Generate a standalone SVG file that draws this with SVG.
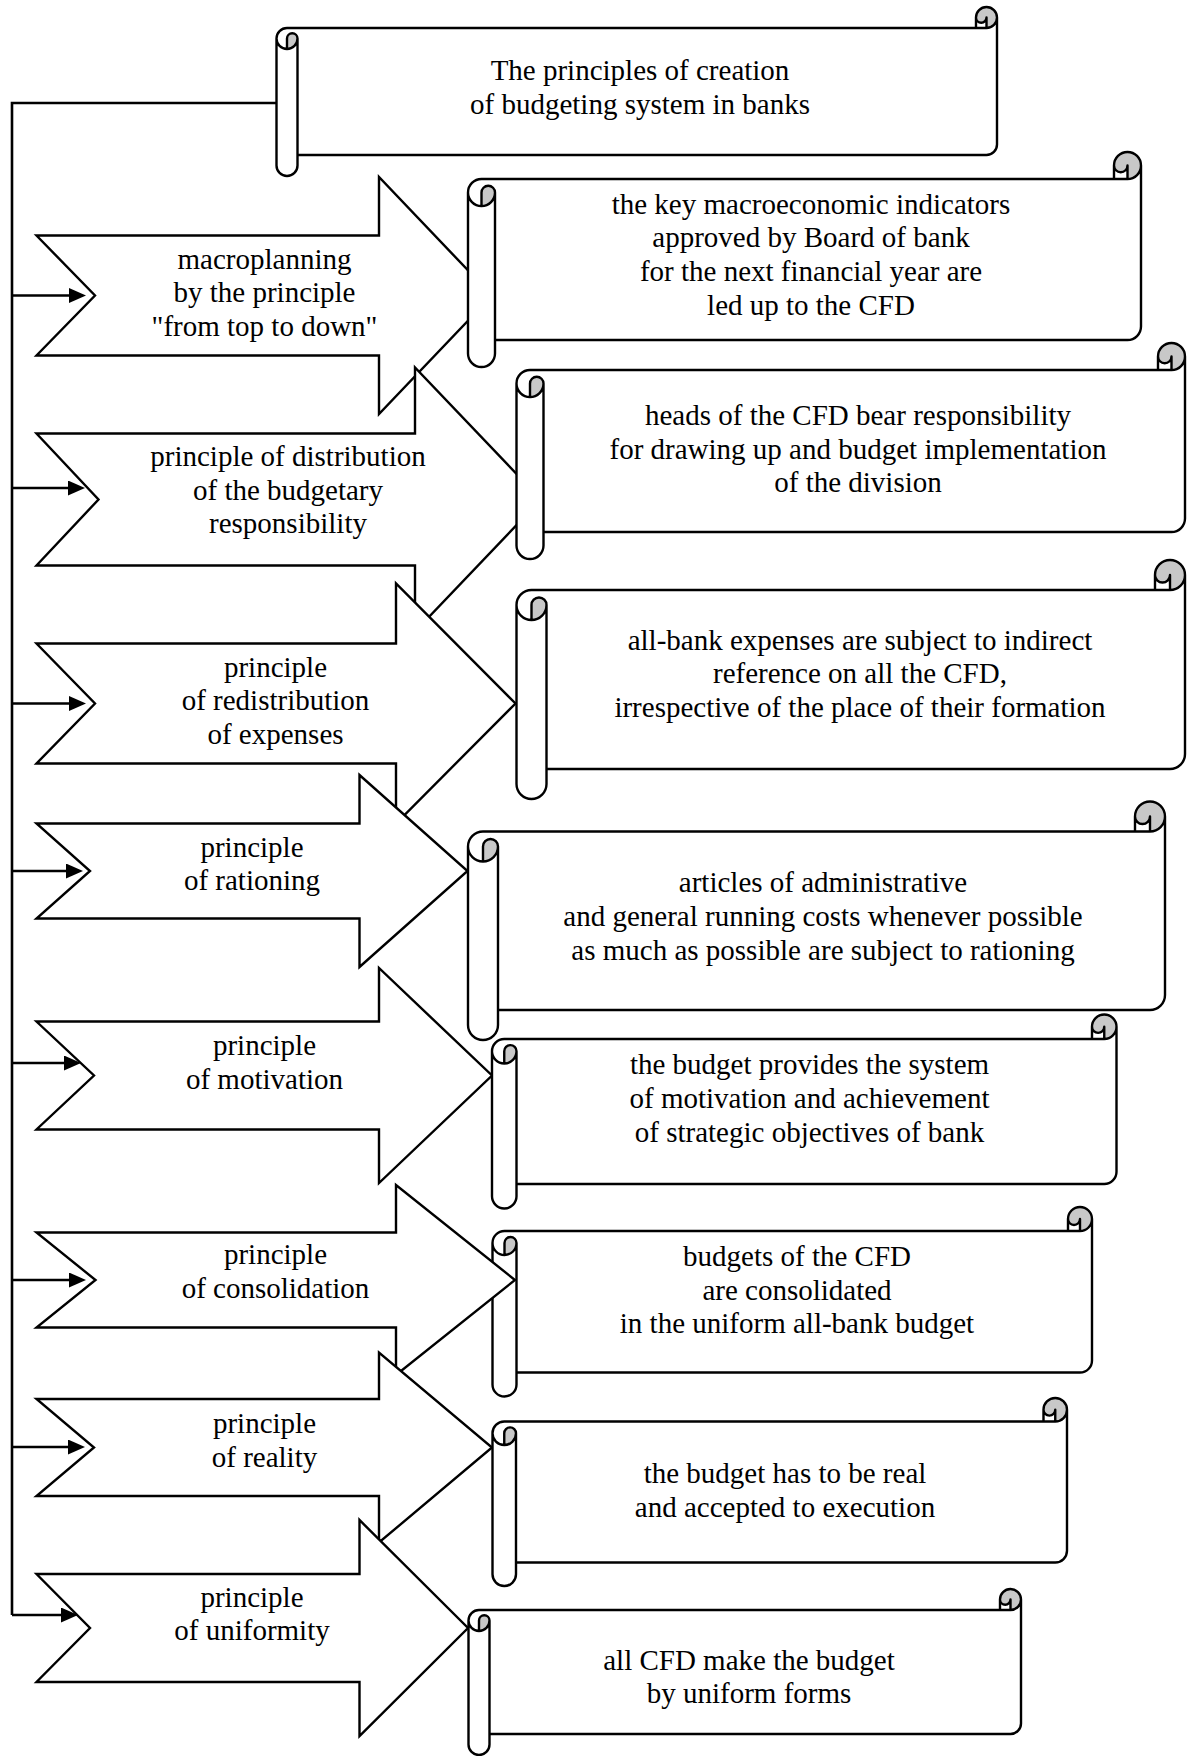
<svg xmlns="http://www.w3.org/2000/svg" width="1187" height="1756" viewBox="0 0 1187 1756">
<style>
.bg{fill:#fff}
.sf{fill:#fff;stroke:none}
.dk{fill:#c8c8c8;stroke:none}
.ln{fill:none;stroke:#000;stroke-width:2.4;stroke-linejoin:round}
.ar{fill:#fff;stroke:#000;stroke-width:2.4;stroke-linejoin:miter}
.cn{fill:none;stroke:#000;stroke-width:2.6}
.t{font-family:"Liberation Serif","Times New Roman",serif;font-size:29px;text-anchor:middle;fill:#000}
</style>
<defs>
<marker id="ah" markerUnits="userSpaceOnUse" markerWidth="18" markerHeight="16" refX="6" refY="7.5" orient="auto">
<path d="M0,0 L17,7.5 L0,15 Z" fill="#000"/>
</marker>
</defs>
<rect class="bg" x="0" y="0" width="1187" height="1756"/>

<g id="title">
<g transform="translate(276.5,7)">
<path class="sf" d="M0,31.5 A10.5,10.5 0 0 1 10.5,21 L699.5,21 L699.5,10.5 A10.5,10.5 0 0 1 720.5,10.5 L720.5,137.5 A10.5,10.5 0 0 1 710,148 L21,148 L21,158.5 A10.5,10.5 0 0 1 0,158.5 Z"/>
<path class="dk" d="M10.5,42 A10.5,10.5 0 0 0 21,31.5 A5.25,5.25 0 0 0 10.5,31.5 Z M710,21 A10.5,10.5 0 1 0 699.5,10.5 A5.25,5.25 0 0 0 710,10.5 Z"/>
<path class="ln" d="M0,31.5 A10.5,10.5 0 0 1 10.5,21 L699.5,21 L699.5,10.5 A10.5,10.5 0 0 1 720.5,10.5 L720.5,137.5 A10.5,10.5 0 0 1 710,148 L21,148 L21,158.5 A10.5,10.5 0 0 1 0,158.5 Z M699.5,21 L710,21 A10.5,10.5 0 0 0 720.5,10.5 M710,21 L710,10.5 A5.25,5.25 0 0 1 699.5,10.5 M10.5,42 L10.5,31.5 A5.25,5.25 0 0 1 21,31.5 A10.5,10.5 0 0 1 0,31.5 M21,31.5 L21,148"/>
</g>
<text class="t" x="640" y="80">The principles of creation</text>
<text class="t" x="640" y="113.5">of budgeting system in banks</text>
</g>

<g id="arrow1">
<polygon class="ar" points="36.5,235.5 379,235.5 379,177 492,295.5 379,414 379,355.5 36.5,355.5 95,295.5"/>
<text class="t" x="264.5" y="268.5">macroplanning</text>
<text class="t" x="264.5" y="302">by the principle</text>
<text class="t" x="264.5" y="335.5">"from top to down"</text>
</g>

<g id="scroll1">
<g transform="translate(468,152)">
<path class="sf" d="M0,40.5 A13.5,13.5 0 0 1 13.5,27 L646,27 L646,13.5 A13.5,13.5 0 0 1 673,13.5 L673,174.5 A13.5,13.5 0 0 1 659.5,188 L27,188 L27,201.5 A13.5,13.5 0 0 1 0,201.5 Z"/>
<path class="dk" d="M13.5,54 A13.5,13.5 0 0 0 27,40.5 A6.75,6.75 0 0 0 13.5,40.5 Z M659.5,27 A13.5,13.5 0 1 0 646,13.5 A6.75,6.75 0 0 0 659.5,13.5 Z"/>
<path class="ln" d="M0,40.5 A13.5,13.5 0 0 1 13.5,27 L646,27 L646,13.5 A13.5,13.5 0 0 1 673,13.5 L673,174.5 A13.5,13.5 0 0 1 659.5,188 L27,188 L27,201.5 A13.5,13.5 0 0 1 0,201.5 Z M646,27 L659.5,27 A13.5,13.5 0 0 0 673,13.5 M659.5,27 L659.5,13.5 A6.75,6.75 0 0 1 646,13.5 M13.5,54 L13.5,40.5 A6.75,6.75 0 0 1 27,40.5 A13.5,13.5 0 0 1 0,40.5 M27,40.5 L27,188"/>
</g>
<text class="t" x="811" y="213.5">the key macroeconomic indicators</text>
<text class="t" x="811" y="247">approved by Board of bank</text>
<text class="t" x="811" y="281">for the next financial year are</text>
<text class="t" x="811" y="315">led up to the CFD</text>
</g>

<g id="arrow2">
<polygon class="ar" points="36.5,433.5 415,433.5 415,367.5 541,499.5 415,631.5 415,565.5 36.5,565.5 98.5,499.5"/>
<text class="t" x="288" y="466">principle of distribution</text>
<text class="t" x="288" y="499.5">of the budgetary</text>
<text class="t" x="288" y="533">responsibility</text>
</g>

<g id="scroll2">
<g transform="translate(516.5,343)">
<path class="sf" d="M0,40.5 A13.5,13.5 0 0 1 13.5,27 L641.5,27 L641.5,13.5 A13.5,13.5 0 0 1 668.5,13.5 L668.5,175.5 A13.5,13.5 0 0 1 655,189 L27,189 L27,202.5 A13.5,13.5 0 0 1 0,202.5 Z"/>
<path class="dk" d="M13.5,54 A13.5,13.5 0 0 0 27,40.5 A6.75,6.75 0 0 0 13.5,40.5 Z M655,27 A13.5,13.5 0 1 0 641.5,13.5 A6.75,6.75 0 0 0 655,13.5 Z"/>
<path class="ln" d="M0,40.5 A13.5,13.5 0 0 1 13.5,27 L641.5,27 L641.5,13.5 A13.5,13.5 0 0 1 668.5,13.5 L668.5,175.5 A13.5,13.5 0 0 1 655,189 L27,189 L27,202.5 A13.5,13.5 0 0 1 0,202.5 Z M641.5,27 L655,27 A13.5,13.5 0 0 0 668.5,13.5 M655,27 L655,13.5 A6.75,6.75 0 0 1 641.5,13.5 M13.5,54 L13.5,40.5 A6.75,6.75 0 0 1 27,40.5 A13.5,13.5 0 0 1 0,40.5 M27,40.5 L27,189"/>
</g>
<text class="t" x="858" y="425">heads of the CFD bear responsibility</text>
<text class="t" x="858" y="458.5">for drawing up and budget implementation</text>
<text class="t" x="858" y="492">of the division</text>
</g>

<g id="arrow3">
<polygon class="ar" points="36.5,643.5 396,643.5 396,583.5 515.5,703.5 396,823.5 396,763.5 36.5,763.5 95,703.5"/>
<text class="t" x="275.5" y="676.5">principle</text>
<text class="t" x="275.5" y="710">of redistribution</text>
<text class="t" x="275.5" y="743.5">of expenses</text>
</g>

<g id="scroll3">
<g transform="translate(516.5,560)">
<path class="sf" d="M0,45 A15,15 0 0 1 15,30 L638.5,30 L638.5,15 A15,15 0 0 1 668.5,15 L668.5,194 A15,15 0 0 1 653.5,209 L30,209 L30,224 A15,15 0 0 1 0,224 Z"/>
<path class="dk" d="M15,60 A15,15 0 0 0 30,45 A7.5,7.5 0 0 0 15,45 Z M653.5,30 A15,15 0 1 0 638.5,15 A7.5,7.5 0 0 0 653.5,15 Z"/>
<path class="ln" d="M0,45 A15,15 0 0 1 15,30 L638.5,30 L638.5,15 A15,15 0 0 1 668.5,15 L668.5,194 A15,15 0 0 1 653.5,209 L30,209 L30,224 A15,15 0 0 1 0,224 Z M638.5,30 L653.5,30 A15,15 0 0 0 668.5,15 M653.5,30 L653.5,15 A7.5,7.5 0 0 1 638.5,15 M15,60 L15,45 A7.5,7.5 0 0 1 30,45 A15,15 0 0 1 0,45 M30,45 L30,209"/>
</g>
<text class="t" x="860" y="649.5">all-bank expenses are subject to indirect</text>
<text class="t" x="860" y="683">reference on all the CFD,</text>
<text class="t" x="860" y="716.5">irrespective of the place of their formation</text>
</g>

<g id="arrow4">
<polygon class="ar" points="36.5,823.5 359.5,823.5 359.5,775 467.5,871 359.5,967 359.5,918.5 36.5,918.5 90,871"/>
<text class="t" x="252" y="856.5">principle</text>
<text class="t" x="252" y="890">of rationing</text>
</g>

<g id="scroll4">
<g transform="translate(468,801.5)">
<path class="sf" d="M0,45 A15,15 0 0 1 15,30 L667,30 L667,15 A15,15 0 0 1 697,15 L697,193.5 A15,15 0 0 1 682,208.5 L30,208.5 L30,223.5 A15,15 0 0 1 0,223.5 Z"/>
<path class="dk" d="M15,60 A15,15 0 0 0 30,45 A7.5,7.5 0 0 0 15,45 Z M682,30 A15,15 0 1 0 667,15 A7.5,7.5 0 0 0 682,15 Z"/>
<path class="ln" d="M0,45 A15,15 0 0 1 15,30 L667,30 L667,15 A15,15 0 0 1 697,15 L697,193.5 A15,15 0 0 1 682,208.5 L30,208.5 L30,223.5 A15,15 0 0 1 0,223.5 Z M667,30 L682,30 A15,15 0 0 0 697,15 M682,30 L682,15 A7.5,7.5 0 0 1 667,15 M15,60 L15,45 A7.5,7.5 0 0 1 30,45 A15,15 0 0 1 0,45 M30,45 L30,208.5"/>
</g>
<text class="t" x="823" y="892">articles of administrative</text>
<text class="t" x="823" y="926">and general running costs whenever possible</text>
<text class="t" x="823" y="960">as much as possible are subject to rationing</text>
</g>

<g id="arrow5">
<polygon class="ar" points="36.5,1021.5 379,1021.5 379,968 492,1075.5 379,1183 379,1129.5 36.5,1129.5 94,1075.5"/>
<text class="t" x="264.5" y="1055">principle</text>
<text class="t" x="264.5" y="1088.5">of motivation</text>
</g>

<g id="scroll5">
<g transform="translate(492,1014.5)">
<path class="sf" d="M0,36.75 A12.25,12.25 0 0 1 12.25,24.5 L600,24.5 L600,12.25 A12.25,12.25 0 0 1 624.5,12.25 L624.5,157.25 A12.25,12.25 0 0 1 612.25,169.5 L24.5,169.5 L24.5,181.75 A12.25,12.25 0 0 1 0,181.75 Z"/>
<path class="dk" d="M12.25,49 A12.25,12.25 0 0 0 24.5,36.75 A6.125,6.125 0 0 0 12.25,36.75 Z M612.25,24.5 A12.25,12.25 0 1 0 600,12.25 A6.125,6.125 0 0 0 612.25,12.25 Z"/>
<path class="ln" d="M0,36.75 A12.25,12.25 0 0 1 12.25,24.5 L600,24.5 L600,12.25 A12.25,12.25 0 0 1 624.5,12.25 L624.5,157.25 A12.25,12.25 0 0 1 612.25,169.5 L24.5,169.5 L24.5,181.75 A12.25,12.25 0 0 1 0,181.75 Z M600,24.5 L612.25,24.5 A12.25,12.25 0 0 0 624.5,12.25 M612.25,24.5 L612.25,12.25 A6.125,6.125 0 0 1 600,12.25 M12.25,49 L12.25,36.75 A6.125,6.125 0 0 1 24.5,36.75 A12.25,12.25 0 0 1 0,36.75 M24.5,36.75 L24.5,169.5"/>
</g>
<text class="t" x="809.5" y="1074">the budget provides the system</text>
<text class="t" x="809.5" y="1108">of motivation and achievement</text>
<text class="t" x="809.5" y="1142">of strategic objectives of bank</text>
</g>

<g id="scroll6">
<g transform="translate(492.5,1207)">
<path class="sf" d="M0,36 A12,12 0 0 1 12,24 L575.5,24 L575.5,12 A12,12 0 0 1 599.5,12 L599.5,153.5 A12,12 0 0 1 587.5,165.5 L24,165.5 L24,177.5 A12,12 0 0 1 0,177.5 Z"/>
<path class="dk" d="M12,48 A12,12 0 0 0 24,36 A6,6 0 0 0 12,36 Z M587.5,24 A12,12 0 1 0 575.5,12 A6,6 0 0 0 587.5,12 Z"/>
<path class="ln" d="M0,36 A12,12 0 0 1 12,24 L575.5,24 L575.5,12 A12,12 0 0 1 599.5,12 L599.5,153.5 A12,12 0 0 1 587.5,165.5 L24,165.5 L24,177.5 A12,12 0 0 1 0,177.5 Z M575.5,24 L587.5,24 A12,12 0 0 0 599.5,12 M587.5,24 L587.5,12 A6,6 0 0 1 575.5,12 M12,48 L12,36 A6,6 0 0 1 24,36 A12,12 0 0 1 0,36 M24,36 L24,165.5"/>
</g>
<text class="t" x="797" y="1266">budgets of the CFD</text>
<text class="t" x="797" y="1299.5">are consolidated</text>
<text class="t" x="797" y="1333">in the uniform all-bank budget</text>
</g>

<g id="arrow6">
<polygon class="ar" points="36.5,1232.5 396,1232.5 396,1185 515,1280 396,1375 396,1327.5 36.5,1327.5 95.5,1280"/>
<text class="t" x="275.5" y="1264">principle</text>
<text class="t" x="275.5" y="1297.5">of consolidation</text>
</g>

<g id="arrow7">
<polygon class="ar" points="36.5,1399 379,1399 379,1352.5 492,1447.5 379,1542.5 379,1496 36.5,1496 94,1447.5"/>
<text class="t" x="264.5" y="1433">principle</text>
<text class="t" x="264.5" y="1466.5">of reality</text>
</g>

<g id="scroll7">
<g transform="translate(492.5,1398)">
<path class="sf" d="M0,35.25 A11.75,11.75 0 0 1 11.75,23.5 L551,23.5 L551,11.75 A11.75,11.75 0 0 1 574.5,11.75 L574.5,152.75 A11.75,11.75 0 0 1 562.75,164.5 L23.5,164.5 L23.5,176.25 A11.75,11.75 0 0 1 0,176.25 Z"/>
<path class="dk" d="M11.75,47 A11.75,11.75 0 0 0 23.5,35.25 A5.875,5.875 0 0 0 11.75,35.25 Z M562.75,23.5 A11.75,11.75 0 1 0 551,11.75 A5.875,5.875 0 0 0 562.75,11.75 Z"/>
<path class="ln" d="M0,35.25 A11.75,11.75 0 0 1 11.75,23.5 L551,23.5 L551,11.75 A11.75,11.75 0 0 1 574.5,11.75 L574.5,152.75 A11.75,11.75 0 0 1 562.75,164.5 L23.5,164.5 L23.5,176.25 A11.75,11.75 0 0 1 0,176.25 Z M551,23.5 L562.75,23.5 A11.75,11.75 0 0 0 574.5,11.75 M562.75,23.5 L562.75,11.75 A5.875,5.875 0 0 1 551,11.75 M11.75,47 L11.75,35.25 A5.875,5.875 0 0 1 23.5,35.25 A11.75,11.75 0 0 1 0,35.25 M23.5,35.25 L23.5,164.5"/>
</g>
<text class="t" x="785" y="1483">the budget has to be real</text>
<text class="t" x="785" y="1517">and accepted to execution</text>
</g>

<g id="arrow8">
<polygon class="ar" points="36.5,1574 359.5,1574 359.5,1520 468,1628 359.5,1736 359.5,1682 36.5,1682 90,1628"/>
<text class="t" x="252" y="1606.5">principle</text>
<text class="t" x="252" y="1640">of uniformity</text>
</g>

<g id="scroll8">
<g transform="translate(468.5,1589)">
<path class="sf" d="M0,31.5 A10.5,10.5 0 0 1 10.5,21 L531.5,21 L531.5,10.5 A10.5,10.5 0 0 1 552.5,10.5 L552.5,134.5 A10.5,10.5 0 0 1 542,145 L21,145 L21,155.5 A10.5,10.5 0 0 1 0,155.5 Z"/>
<path class="dk" d="M10.5,42 A10.5,10.5 0 0 0 21,31.5 A5.25,5.25 0 0 0 10.5,31.5 Z M542,21 A10.5,10.5 0 1 0 531.5,10.5 A5.25,5.25 0 0 0 542,10.5 Z"/>
<path class="ln" d="M0,31.5 A10.5,10.5 0 0 1 10.5,21 L531.5,21 L531.5,10.5 A10.5,10.5 0 0 1 552.5,10.5 L552.5,134.5 A10.5,10.5 0 0 1 542,145 L21,145 L21,155.5 A10.5,10.5 0 0 1 0,155.5 Z M531.5,21 L542,21 A10.5,10.5 0 0 0 552.5,10.5 M542,21 L542,10.5 A5.25,5.25 0 0 1 531.5,10.5 M10.5,42 L10.5,31.5 A5.25,5.25 0 0 1 21,31.5 A10.5,10.5 0 0 1 0,31.5 M21,31.5 L21,145"/>
</g>
<text class="t" x="749" y="1670">all CFD make the budget</text>
<text class="t" x="749" y="1703">by uniform forms</text>
</g>

<g id="connectors">
<path class="cn" d="M276.5,103 H12 V1615"/>
<line class="cn" x1="12" y1="295.5" x2="75" y2="295.5" marker-end="url(#ah)"/>
<line class="cn" x1="12" y1="488" x2="74" y2="488" marker-end="url(#ah)"/>
<line class="cn" x1="12" y1="703.5" x2="75" y2="703.5" marker-end="url(#ah)"/>
<line class="cn" x1="12" y1="871" x2="72" y2="871" marker-end="url(#ah)"/>
<line class="cn" x1="12" y1="1063" x2="70" y2="1063" marker-end="url(#ah)"/>
<line class="cn" x1="12" y1="1280" x2="75" y2="1280" marker-end="url(#ah)"/>
<line class="cn" x1="12" y1="1447" x2="74" y2="1447" marker-end="url(#ah)"/>
<line class="cn" x1="12" y1="1615" x2="67" y2="1615" marker-end="url(#ah)"/>
</g>
</svg>
